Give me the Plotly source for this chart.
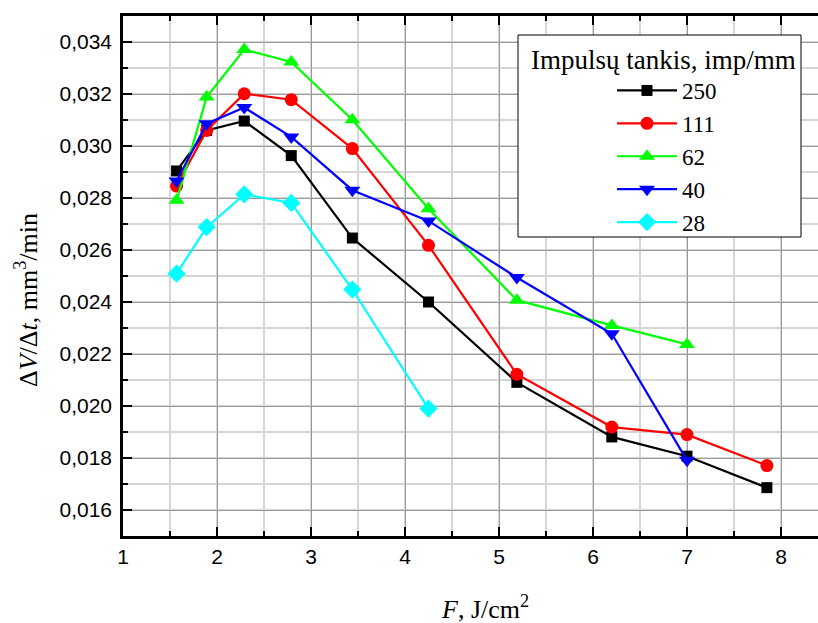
import plotly.graph_objects as go

# Data
F = [1.57, 1.89, 2.29, 2.79, 3.44, 4.25, 5.19, 6.20, 7.00, 7.85]

series_names = ["250", "111", "62", "40", "28"]
y_250 = [0.02904, 0.03060, 0.03096, 0.02963, 0.02646, 0.02400, 0.02091, 0.01881, 0.01807, 0.01686]
y_111 = [0.02846, 0.03060, 0.03201, 0.03178, 0.02990, 0.02618, 0.02122, 0.01919, 0.01890, 0.01771]
y_62 = [0.02791, 0.03188, 0.03371, 0.03323, 0.03101, 0.02759, 0.02407, 0.02310, 0.02237]
y_40 = [0.02865, 0.03086, 0.03148, 0.03035, 0.02830, 0.02712, 0.02494, 0.02278, 0.01791]
y_28 = [0.02509, 0.02688, 0.02814, 0.02781, 0.02448, 0.01990]

x_ticks = [1, 2, 3, 4, 5, 6, 7, 8]
y_ticks = [0.016, 0.018, 0.020, 0.022, 0.024, 0.026, 0.028, 0.030, 0.032, 0.034]

all_y = [y_250, y_111, y_62, y_40, y_28]
colors = ["#000000", "#ff0000", "#00ff00", "#0000ff", "#00ffff"]
symbols = ["square", "circle", "triangle-up", "triangle-down", "diamond"]
sizes = [11, 13, 14, 14, 14]

fig = go.Figure()
for name, ys, c, s, sz in zip(series_names, all_y, colors, symbols, sizes):
    fig.add_trace(go.Scatter(
        x=F[:len(ys)], y=ys, name=name, mode="lines+markers",
        line=dict(color=c, width=2.2),
        marker=dict(symbol=s, size=sz, color=c, line=dict(width=0)),
    ))

W, H = 818, 623
L, R, T, B = 123, 0, 16, 87
pw, ph = W - L - R, H - T - B

def px_x(p):
    return (p - L) / pw

def px_y(p):
    return (H - B - p) / ph

serif = "Liberation Serif, Times New Roman, serif"
sans = "Liberation Sans, Arial, sans-serif"

fig.update_layout(
    width=W, height=H,
    margin=dict(l=L, r=R, t=T, b=B),
    plot_bgcolor="white", paper_bgcolor="white",
    separators=", ",
    showlegend=True,
    legend=dict(
        x=px_x(612), y=px_y(69), xanchor="left", yanchor="top",
        bgcolor="rgba(0,0,0,0)", borderwidth=0,
        font=dict(family=serif, size=23, color="black"),
        tracegroupgap=0, itemwidth=60,
    ),
    xaxis=dict(
        range=[1, 1 + pw / 94.0],
        tickvals=x_ticks, ticktext=[str(v) for v in x_ticks],
        ticks="inside", ticklen=9, tickwidth=2, tickcolor="black",
        showline=True, linewidth=2.5, linecolor="black", mirror="ticks",
        showgrid=True, gridcolor="#9a9a9a", gridwidth=1,
        minor=dict(dtick=0.5, tick0=1, ticks="inside", ticklen=5, tickwidth=2,
                   tickcolor="black", showgrid=True, gridcolor="#d6d6d6", gridwidth=1.5),
        tickfont=dict(family=sans, size=21, color="black"),
        zeroline=False,
    ),
    yaxis=dict(
        range=[0.015, 0.035],
        tickvals=y_ticks, tickformat=".3f",
        ticks="inside", ticklen=9, tickwidth=2, tickcolor="black",
        showline=True, linewidth=2.5, linecolor="black",
        showgrid=True, gridcolor="#9a9a9a", gridwidth=1,
        minor=dict(dtick=0.001, tick0=0.015, ticks="inside", ticklen=5, tickwidth=2,
                   tickcolor="black", showgrid=True, gridcolor="#d6d6d6", gridwidth=1.5),
        tickfont=dict(family=sans, size=21, color="black"),
        ticklabelstandoff=4,
        zeroline=False,
    ),
    shapes=[dict(
        type="rect", xref="paper", yref="paper",
        x0=px_x(518), x1=px_x(801), y0=px_y(237), y1=px_y(35),
        line=dict(color="black", width=1), fillcolor="white", layer="above",
    )],
    annotations=[
        dict(text="Impulsų tankis, imp/mm", xref="paper", yref="paper",
             x=px_x(663), y=px_y(60), xanchor="center", yanchor="middle",
             showarrow=False, font=dict(family=serif, size=27, color="black")),
        dict(text="Δ<i>V</i>/Δ<i>t</i>, mm<sup>3</sup>/min", xref="paper", yref="paper",
             x=px_x(26), y=px_y(300), xanchor="center", yanchor="middle",
             textangle=-90, showarrow=False,
             font=dict(family=serif, size=26, color="black")),
        dict(text="<i>F</i>, J/cm<sup>2</sup>", xref="paper", yref="paper",
             x=px_x(485), y=px_y(607), xanchor="center", yanchor="middle",
             showarrow=False, font=dict(family=serif, size=26, color="black")),
    ],
)

fig.write_html("out.html")
